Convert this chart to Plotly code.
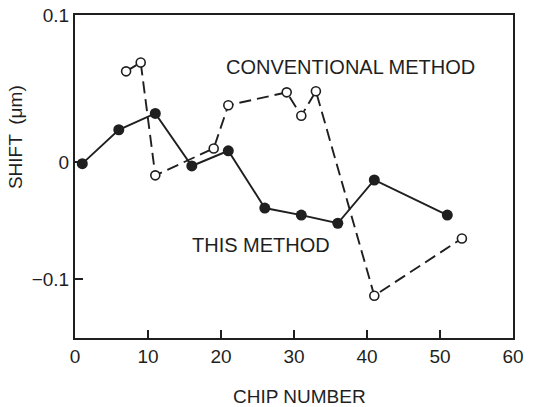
import plotly.graph_objects as go

# THIS METHOD (filled circles)
this_chip = [1, 6, 11, 16, 21, 26, 31, 36, 41, 51]
this_shift = [-0.001, 0.028, 0.042, -0.003, 0.010, -0.039, -0.045, -0.052, -0.015, -0.045]

# CONVENTIONAL METHOD (open circles, dashed)
conv_chip = [7, 9, 11, 19, 21, 29, 31, 33, 41, 53]
conv_shift = [0.078, 0.0855, -0.011, 0.012, 0.049, 0.060, 0.040, 0.061, -0.114, -0.065]

x_ticks = [0, 10, 20, 30, 40, 50, 60]
y_tickvals = [-0.1, 0, 0.126]
y_ticktext = ["\u22120.1", "0", "0.1"]

ink = "#1f1f1f"
font = dict(family="Liberation Sans, Arial, sans-serif", size=19, color=ink)
ann_font = dict(family="Liberation Sans, Arial, sans-serif", size=20, color=ink)

fig = go.Figure()
fig.add_trace(go.Scatter(
    x=conv_chip, y=conv_shift, mode="lines+markers",
    line=dict(color=ink, width=1.9, dash="12px,6px"),
    marker=dict(symbol="circle", size=9, color="white", line=dict(color=ink, width=1.6)),
    showlegend=False, hoverinfo="skip"))
fig.add_trace(go.Scatter(
    x=this_chip, y=this_shift, mode="lines+markers",
    line=dict(color=ink, width=1.9),
    marker=dict(symbol="circle", size=11, color=ink),
    showlegend=False, hoverinfo="skip"))

fig.add_annotation(x=37.8, y=0.0815, text="CONVENTIONAL METHOD", showarrow=False,
                   font=ann_font, xanchor="center", yanchor="middle")
fig.add_annotation(x=25.5, y=-0.0703, text="THIS METHOD", showarrow=False,
                   font=ann_font, xanchor="center", yanchor="middle")
fig.add_annotation(xref="paper", yref="paper", x=-0.137, y=0.622,
                   text="SHIFT\u2002(\u03bcm)",
                   textangle=-90, showarrow=False, font=font, xanchor="center", yanchor="middle")
fig.add_annotation(xref="paper", yref="paper", x=0.5126, y=-0.181, text="CHIP NUMBER",
                   showarrow=False, font=font, xanchor="center", yanchor="middle")

fig.update_xaxes(range=[0, 60], tickvals=x_ticks, ticks="inside", ticklen=8, tickwidth=1.8,
                 tickcolor=ink, showline=True, linecolor=ink, linewidth=2, mirror=True,
                 showgrid=False, zeroline=False, tickfont=font, automargin=False)
fig.update_yaxes(range=[-0.1502, 0.1262], tickvals=y_tickvals, ticktext=y_ticktext,
                 ticks="inside", ticklen=8, tickwidth=1.8, tickcolor=ink, showline=True,
                 linecolor=ink, linewidth=2, mirror=True, showgrid=False, zeroline=False,
                 tickfont=font, automargin=False)
fig.update_layout(width=534, height=407, margin=dict(l=75, r=21, t=15, b=69),
                  plot_bgcolor="white", paper_bgcolor="white", font=font)
fig.write_html("out.html", config={"displayModeBar": False},
               post_script="document.body.style.margin='0';document.body.style.overflow='hidden';")
